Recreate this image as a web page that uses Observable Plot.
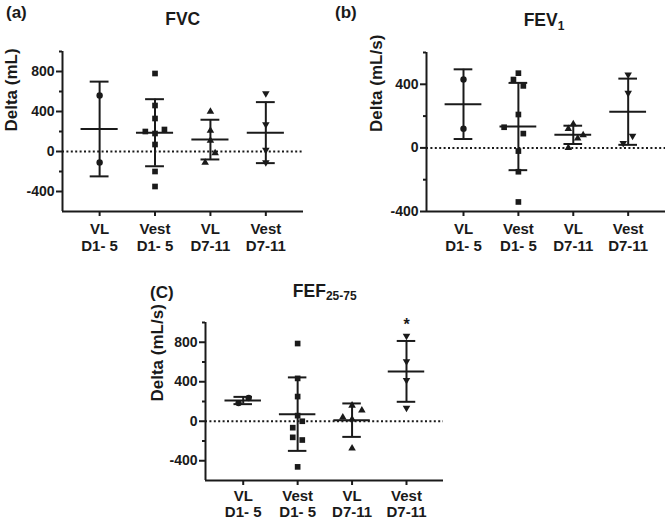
<!DOCTYPE html>
<html><head><meta charset="utf-8">
<script src="https://cdn.jsdelivr.net/npm/d3@7"></script>
<script src="https://cdn.jsdelivr.net/npm/@observablehq/plot@0.6"></script>
<style>
body{margin:0;background:#fff;}
#fig{position:relative;width:668px;height:521px;overflow:hidden;font-family:"Liberation Sans",Arial,sans-serif;color:#1a1a1a;background:#fff}
.panel{position:absolute}
#titles{position:absolute;left:0;top:0;pointer-events:none;font-family:"Liberation Sans",Arial,sans-serif;font-weight:bold;fill:#1a1a1a}
</style></head><body>
<div id="fig">
  <div class="panel" id="pa" style="left:0;top:0"></div>
  <div class="panel" id="pb" style="left:334px;top:0"></div>
  <div class="panel" id="pc" style="left:150px;top:260px"></div>
  <svg id="titles" width="668" height="521">
    <text x="6" y="18" font-size="17">(a)</text>
    <text x="182.7" y="25" text-anchor="middle" font-size="17.5">FVC</text>
    <text x="335" y="18" font-size="17">(b)</text>
    <text x="544" y="26" text-anchor="middle" font-size="17.5">FEV<tspan font-size="12" dy="3.5">1</tspan></text>
    <text x="150" y="298" font-size="17">(C)</text>
    <text x="324.7" y="296.7" text-anchor="middle" font-size="17.5">FEF<tspan font-size="12" dy="3.5">25-75</tspan></text>
  </svg>
</div>
<script>
// ---- categories ----
const groups = ["VL D1-5", "Vest D1-5", "VL D7-11", "Vest D7-11"];
const groupLabels = ["VL\nD1- 5", "Vest\nD1- 5", "VL\nD7-11", "Vest\nD7-11"];

// ---- (a) FVC, Delta (mL) ----
const fvcVLD15 = [560, -110];
const fvcVestD15 = [780, 460, 330, 200, 220, 180, 70, -200, -350];
const fvcVLD711 = [400, 210, 110, -15, -110];
const fvcVestD711 = [580, 270, 15, -110];

// ---- (b) FEV1, Delta (mL/s) ----
const fev1VLD15 = [430, 120];
const fev1VestD15 = [470, 430, 390, 210, 130, 90, -20, -150, -340];
const fev1VLD711 = [150, 120, 80, 60, 0];
const fev1VestD711 = [460, 345, 75, 30];

// ---- (C) FEF25-75, Delta (mL/s) ----
const fefVLD15 = [236, 184];
const fefVestD15 = [787, 434, 250, 57, 0, -65, -163, -190, -462];
const fefVLD711 = [160, 110, 40, 20, -275];
const fefVestD711 = [865, 605, 415, 135];

// ---- horizontal scatter of overlapping points (in category units) ----
const fvcJitter = [[0, 0], [0, 0, 0, -0.175, 0.17, 0, 0, 0, 0], [0, 0, 0, 0.085, -0.095], [0, 0, 0, 0]];
const fev1Jitter = [[0, 0], [0, -0.09, 0.09, 0, -0.26, 0.09, 0, 0, 0], [0, -0.09, 0.18, 0.08, -0.09], [0, 0, 0.08, -0.09]];
const fefJitter = [[0.1, -0.085], [0, 0, 0, 0, 0.085, -0.09, -0.09, 0.085, 0], [0, 0.18, -0.17, 0, 0], [0, 0, 0, 0]];

// ---- tick values ----
const fvcMajorTicks = [-400, 0, 400, 800];
const fvcMinorTicks = [-200, 200, 600, 1000];
const fev1MajorTicks = [-400, 0, 400];
const fev1MinorTicks = [-200, 200, 600];
const fefMajorTicks = [-400, 0, 400, 800];
const fefMinorTicks = [-200, 200, 600, 1000];

const INK = "#1a1a1a";
const downTriangle = {
  draw(ctx, size) {
    const h = Math.sqrt(size / (Math.sqrt(3) * 3));
    ctx.moveTo(0, 2 * h);
    ctx.lineTo(-Math.sqrt(3) * h, -h);
    ctx.lineTo(Math.sqrt(3) * h, -h);
    ctx.closePath();
  }
};
const symbols = ["circle", "square", "triangle", downTriangle];
const radii = [3.2, 3.2, 2.8, 2.8];

function makePanel(cfg) {
  const pts = [], stats = [];
  cfg.series.forEach((vals, i) => {
    vals.forEach((v, k) => pts.push({i, x: i + cfg.jitter[i][k], v}));
    const m = d3.mean(vals), s = d3.deviation(vals);
    stats.push({i, mean: m, lo: m - s, hi: m + s});
  });
  const capW = 0.17, meanW = 0.335;
  const marks = [
    Plot.ruleY([0], {stroke: INK, strokeWidth: 2, strokeDasharray: "2,2.4"}),
    Plot.ruleX([cfg.xDomain[0]], {stroke: INK, strokeWidth: 2}),
    Plot.ruleY([cfg.yDomain[0]], {stroke: INK, strokeWidth: 2}),
    Plot.axisY({ticks: cfg.minor, tickSize: 3, tickFormat: () => "", strokeWidth: 2, label: null}),
    Plot.axisY({ticks: cfg.major, tickSize: 6, tickPadding: 2, tickFormat: d => String(d),
      fontSize: 14, fontWeight: "bold", strokeWidth: 2, label: null}),
    Plot.axisX({ticks: [0, 1, 2, 3], tickFormat: i => groupLabels[i], tickSize: 5, tickPadding: cfg.xPad,
      fontSize: 15, fontWeight: "bold", lineHeight: cfg.lineHeight, strokeWidth: 2, label: null}),
    Plot.ruleX(stats, {x: "i", y1: "lo", y2: "hi", stroke: INK, strokeWidth: 2}),
    Plot.ruleY(stats, {y: "hi", x1: d => d.i - capW, x2: d => d.i + capW, stroke: INK, strokeWidth: 2}),
    Plot.ruleY(stats, {y: "lo", x1: d => d.i - capW, x2: d => d.i + capW, stroke: INK, strokeWidth: 2}),
    Plot.ruleY(stats, {y: "mean", x1: d => d.i - meanW, x2: d => d.i + meanW, stroke: INK, strokeWidth: 2}),
    ...symbols.map((sym, g) => Plot.dot(pts.filter(p => p.i === g),
      {x: "x", y: "v", symbol: sym, r: radii[g], fill: INK, stroke: "none"})),
    Plot.text([cfg.yLabel], {text: d => d, frameAnchor: "left", rotate: -90, dx: cfg.labelDx,
      fontSize: 17, fontWeight: "bold", fill: INK})
  ];
  if (cfg.note) {
    marks.push(Plot.text([cfg.note], {x: "i", text: "label", frameAnchor: "top", dy: -4,
      fontSize: 16, fontWeight: "bold", fill: INK}));
  }
  return Plot.plot({
    width: cfg.width, height: cfg.height,
    marginLeft: cfg.m[0], marginRight: cfg.m[1], marginTop: cfg.m[2], marginBottom: cfg.m[3],
    x: {type: "linear", domain: cfg.xDomain},
    y: {type: "linear", domain: cfg.yDomain},
    style: {fontFamily: "'Liberation Sans', Arial, sans-serif", fontWeight: "bold", color: INK,
      background: "transparent", overflow: "visible"},
    marks
  });
}

document.getElementById("pa").append(makePanel({
  series: [fvcVLD15, fvcVestD15, fvcVLD711, fvcVestD711], jitter: fvcJitter,
  yDomain: [-600, 1000], xDomain: [-0.67, 3.68], major: fvcMajorTicks, minor: fvcMinorTicks,
  yLabel: "Delta (mL)", labelDx: -51, width: 310, height: 260, m: [62, 7, 51, 49],
  xPad: 4.5, lineHeight: 1.18
}));
document.getElementById("pb").append(makePanel({
  series: [fev1VLD15, fev1VestD15, fev1VLD711, fev1VestD711], jitter: fev1Jitter,
  yDomain: [-400, 600], xDomain: [-0.674, 3.68], major: fev1MajorTicks, minor: fev1MinorTicks,
  yLabel: "Delta (mL/s)", labelDx: -50.3, width: 334, height: 260, m: [92, 3, 52, 49],
  xPad: 4.5, lineHeight: 1.18
}));
document.getElementById("pc").append(makePanel({
  series: [fefVLD15, fefVestD15, fefVLD711, fefVestD711], jitter: fefJitter,
  yDomain: [-600, 1000], xDomain: [-0.693, 3.68], major: fefMajorTicks, minor: fefMinorTicks,
  yLabel: "Delta (mL/s)", labelDx: -48, width: 300, height: 258, m: [55, 7, 62, 38],
  xPad: 3.5, lineHeight: 1.1,
  note: {i: 3, label: "*"}
}));
</script>
</body></html>
